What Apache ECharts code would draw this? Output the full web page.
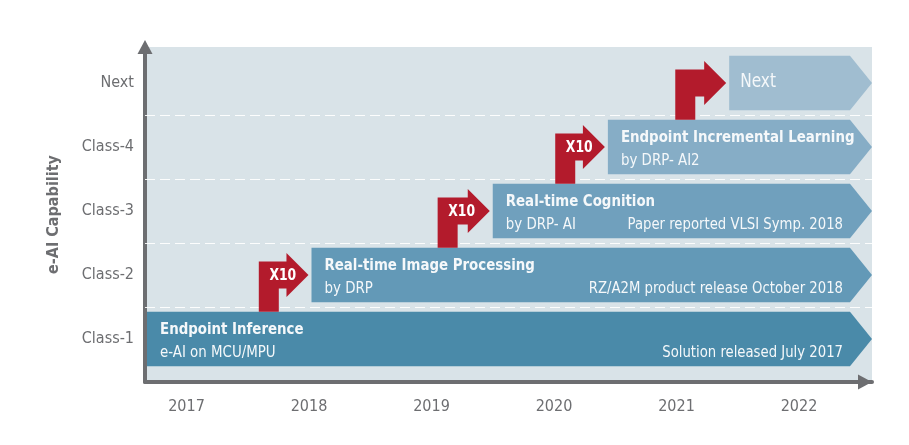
<!DOCTYPE html>
<html><head><meta charset="utf-8">
<script src="https://cdn.jsdelivr.net/npm/echarts@6/dist/echarts.min.js"></script>
<style>html,body{margin:0;padding:0;background:#fff}#c{width:909px;height:445px}</style>
</head><body><div id="c"></div>
<script>
// ---- data ----
const classLabels = ['Class-1', 'Class-2', 'Class-3', 'Class-4', 'Next'];
const yearLabels = [2017, 2018, 2019, 2020, 2021, 2022];
const barLevels = [1, 2, 3, 4, 5];
const barStarts = [2016.661, 2018.02, 2019.50, 2020.44, 2021.43];
const barEnds = [2022.596, 2022.596, 2022.596, 2022.596, 2022.596];
const barTitles = ['Endpoint Inference', 'Real-time Image Processing', 'Real-time Cognition', 'Endpoint Incremental Learning', ''];
const barSubtitles = ['e-AI on MCU/MPU', 'by DRP', 'by DRP- AI', 'by DRP- AI2', ''];
const barNotes = ['Solution released July 2017', 'RZ/A2M product release October 2018', 'Paper reported VLSI Symp. 2018', '', ''];
const barPlainLabels = ['', '', '', '', 'Next'];
const arrowStems = [2017.59, 2019.05, 2020.01, 2020.99];
const arrowFrom = [1, 2, 3, 4];
const arrowTo = [2, 3, 4, 5];
const arrowLabels = ['X10', 'X10', 'X10', ''];
const bandEdges = [1.5, 2.5, 3.5, 4.5];

// ---- style ----
const FONT = "'Liberation Sans Narrow','DejaVu Sans Condensed','Liberation Sans',sans-serif";
const GRAY = '#6d6e71';
const barColors = ['#4a8aa9', '#6399b7', '#70a0bd', '#86adc6', '#a0bdd0'];
const RED = '#b31b2c';
const TXT = '#f5f8fa';

function txt(x, y, text, size, bold, align, sx) {
  return {
    type: 'text', x: x, y: y, scaleX: sx,
    style: { text: text, fill: TXT, fontFamily: FONT, fontWeight: bold ? 'bold' : 'normal', fontSize: size, align: align, verticalAlign: 'middle' }
  };
}

function renderBar(params, api) {
  const i = api.value(3);
  const lvl = api.value(2);
  const p0 = api.coord([api.value(0), lvl]);
  const p1 = api.coord([api.value(1), lvl]);
  const band = api.size([0, 1])[1];
  const h = band * 0.85;
  const cy = p0[1];
  const top = cy - h / 2, bot = cy + h / 2;
  const x0 = p0[0] + (i === 0 ? 2 : 0);
  const tip = p1[0];
  const flat = tip - 22;
  const children = [{
    type: 'polygon',
    shape: { points: [[x0, top], [flat, top], [tip, cy], [flat, bot], [x0, bot]] },
    style: { fill: barColors[i] }
  }];
  const lx = x0 + 13;
  if (barTitles[i]) children.push(txt(lx, cy - 9, barTitles[i], 16.5, true, 'left', 0.9));
  if (barSubtitles[i]) children.push(txt(lx, cy + 14, barSubtitles[i], 16, false, 'left', 0.93));
  if (barNotes[i]) children.push(txt(flat - 7, cy + 14, barNotes[i], 16, false, 'right', 0.92));
  if (barPlainLabels[i]) children.push(txt(x0 + 11, cy - 1, barPlainLabels[i], 19, false, 'left', 0.9));
  return { type: 'group', children };
}

function renderArrow(params, api) {
  const i = params.dataIndex;
  const from = api.value(1), to = api.value(2);
  const band = api.size([0, 1])[1];
  const h = band * 0.85;
  const ps = api.coord([api.value(0), from]);
  const pt = api.coord([api.value(3), to]);
  const sx = ps[0];
  const srcTop = ps[1] - h / 2;
  const cy = pt[1];
  const tip = pt[0] - 3;
  const hx = tip - 22;
  const sw = 20, bh = 13.5, hh = 22;
  const children = [{
    type: 'polygon',
    shape: { points: [[sx, srcTop], [sx, cy - bh], [hx, cy - bh], [hx, cy - hh], [tip, cy], [hx, cy + hh], [hx, cy + bh], [sx + sw, cy + bh], [sx + sw, srcTop]] },
    style: { fill: RED }
  }];
  if (arrowLabels[i]) {
    const t = txt(sx + 24, cy + 1, arrowLabels[i], 16, true, 'center', 0.86);
    t.style.fill = '#ffffff';
    children.push(t);
  }
  return { type: 'group', children };
}

const chart = echarts.init(document.getElementById('c'), null, { renderer: 'canvas' });
chart.setOption({
  animation: false,
  backgroundColor: '#ffffff',
  grid: { left: 145, top: 47, right: 37, bottom: 63, show: true, backgroundColor: '#d9e3e8', borderWidth: 0 },
  xAxis: {
    type: 'value', min: 2016.661, max: 2022.596,
    axisLine: { show: true, lineStyle: { color: GRAY, width: 4 }, symbol: ['none', 'triangle'], symbolSize: [15, 14], symbolOffset: [0, -7] },
    axisTick: { show: false }, splitLine: { show: false },
    axisLabel: { customValues: yearLabels, formatter: v => String(v), color: GRAY, fontSize: 16, fontFamily: FONT, margin: 17 }
  },
  yAxis: {
    type: 'value', min: 0.328, max: 5.5625,
    axisLine: { show: true, lineStyle: { color: GRAY, width: 4 }, symbol: ['none', 'triangle'], symbolSize: [15, 14] },
    axisTick: { show: false }, splitLine: { show: false },
    axisLabel: { customValues: barLevels, formatter: v => classLabels[Math.round(v) - 1], color: GRAY, fontSize: 16, fontFamily: FONT, margin: 11 },
    name: 'e-AI Capability', nameLocation: 'middle', nameRotate: 90, nameGap: 83,
    nameTextStyle: { color: GRAY, fontSize: 16, fontWeight: 'bold', fontFamily: FONT }
  },
  series: [
    {
      type: 'line', data: [], z: 1, silent: true,
      markLine: { z: 1, symbol: 'none', silent: true, label: { show: false }, lineStyle: { color: '#ffffff', type: [10, 5], width: 1.2, opacity: 0.9 }, data: bandEdges.map(v => ({ yAxis: v })) }
    },
    {
      type: 'custom', z: 6, silent: true, renderItem: renderBar, encode: { x: [0, 1], y: 2 },
      data: barLevels.map((lvl, i) => [barStarts[i], barEnds[i], lvl, i])
    },
    {
      type: 'custom', z: 7, silent: true, renderItem: renderArrow, encode: { x: [0, 3], y: [1, 2] },
      data: arrowStems.map((s, i) => [s, arrowFrom[i], arrowTo[i], barStarts[arrowTo[i] - 1]])
    }
  ]
});
</script></body></html>
